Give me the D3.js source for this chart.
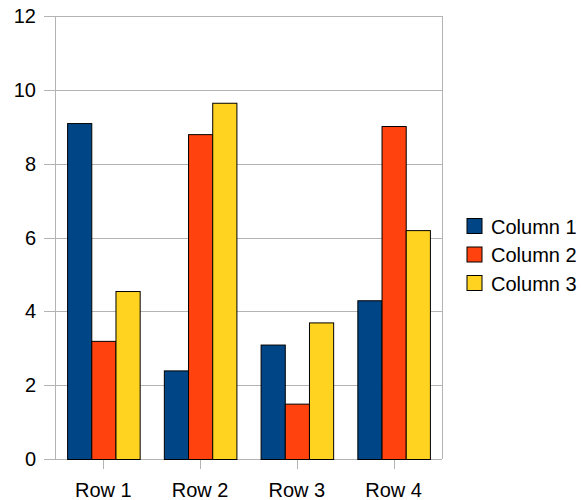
<!DOCTYPE html>
<html><head><meta charset="utf-8">
<script src="https://cdn.jsdelivr.net/npm/d3@7"></script>
<style>html,body{margin:0;padding:0;background:#fff;}svg{display:block;font-family:"Liberation Sans",Arial,sans-serif;}</style>
</head><body>
<svg id="c" width="581" height="500"></svg>
<script>
const rows = ["Row 1", "Row 2", "Row 3", "Row 4"];
const seriesNames = ["Column 1", "Column 2", "Column 3"];
const column1 = [9.1, 2.4, 3.1, 4.3];
const column2 = [3.2, 8.8, 1.5, 9.02];
const column3 = [4.55, 9.65, 3.7, 6.2];
const yTicks = [0, 2, 4, 6, 8, 10, 12];
const colors = ["#004586", "#ff420e", "#ffd320"];

const series = [column1, column2, column3];
const svg = d3.select("#c");
const L = 55, R = 442, T = 16, B = 459;

const y = d3.scaleLinear().domain([0, 12]).range([B, T]);
const x0 = d3.scaleBand().domain(rows).range([L, R]).paddingInner(0.25).paddingOuter(0.125);
const x1 = d3.scaleBand().domain(seriesNames).range([0, x0.bandwidth()]);
const xc = d3.scalePoint().domain(rows).range([L, R]).padding(0.5);

// gridlines
svg.append("g").selectAll("line").data(yTicks).join("line")
  .attr("x1", L - 11).attr("x2", R).attr("y1", d => Math.round(y(d)) + 0.5).attr("y2", d => Math.round(y(d)) + 0.5)
  .attr("stroke", "#b3b3b3").attr("stroke-width", 1);
// frame verticals
svg.append("line").attr("x1", L + 0.5).attr("x2", L + 0.5).attr("y1", T).attr("y2", B).attr("stroke", "#b3b3b3");
svg.append("line").attr("x1", R + 0.5).attr("x2", R + 0.5).attr("y1", T).attr("y2", B).attr("stroke", "#b3b3b3");
// x ticks
svg.append("g").selectAll("line").data(rows).join("line")
  .attr("x1", d => Math.round(xc(d)) + 0.5).attr("x2", d => Math.round(xc(d)) + 0.5)
  .attr("y1", B).attr("y2", B + 10).attr("stroke", "#b3b3b3");

// y labels
svg.append("g").selectAll("text").data(yTicks).join("text")
  .attr("x", 36).attr("y", d => y(d)).attr("dy", "0.35em").attr("text-anchor", "end")
  .attr("font-size", 20).attr("fill", "#000").text(d => d);
// x labels
svg.append("g").selectAll("text").data(rows).join("text")
  .attr("x", d => xc(d)).attr("y", 497).attr("text-anchor", "middle")
  .attr("font-size", 20).attr("fill", "#000").text(d => d);

// bars
const g = svg.append("g").selectAll("g").data(rows).join("g")
  .attr("transform", d => `translate(${x0(d)},0)`);
g.selectAll("rect").data((d, i) => series.map((s, j) => ({name: seriesNames[j], v: s[i], c: colors[j]}))).join("rect")
  .attr("x", d => x1(d.name) + 0.5).attr("width", x1.bandwidth())
  .attr("y", d => y(d.v) + 0.5).attr("height", d => y(0) - y(d.v))
  .attr("fill", d => d.c).attr("stroke", "#000").attr("stroke-width", 1);

// legend
const lg = svg.append("g").selectAll("g").data(seriesNames).join("g")
  .attr("transform", (d, i) => `translate(467,${218.5 + i * 28.5})`);
lg.append("rect").attr("width", 15).attr("height", 15).attr("fill", (d, i) => colors[i]).attr("stroke", "#000");
lg.append("text").attr("x", 24).attr("y", 8).attr("dy", "0.35em").attr("font-size", 20).attr("fill", "#000").text(d => d);
</script>
</body></html>
